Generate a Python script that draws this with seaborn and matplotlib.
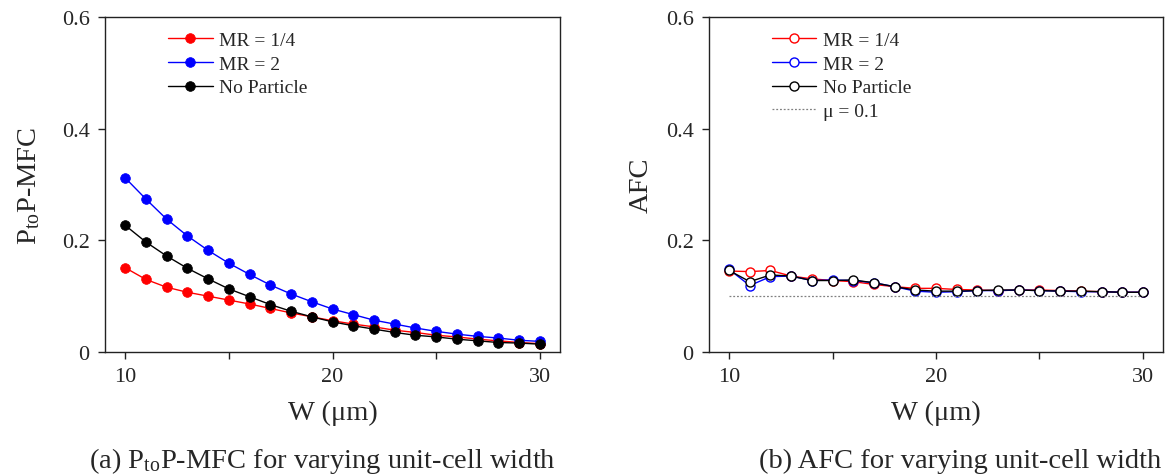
import numpy as np
import pandas as pd
import matplotlib
matplotlib.use("Agg")
import matplotlib.pyplot as plt
import seaborn as sns

# ---------------- data ----------------
W = [10, 11, 12, 13, 14, 15, 16, 17, 18, 19, 20, 21, 22, 23, 24, 25, 26, 27, 28, 29, 30]

mfc_mr14 = [0.151, 0.130, 0.116, 0.107, 0.100, 0.093, 0.086, 0.078, 0.070, 0.063, 0.056,
            0.050, 0.045, 0.039, 0.035, 0.030, 0.027, 0.023, 0.020, 0.017, 0.015]
mfc_mr2 = [0.312, 0.274, 0.238, 0.208, 0.182, 0.159, 0.139, 0.120, 0.104, 0.090, 0.077,
           0.067, 0.057, 0.050, 0.043, 0.037, 0.032, 0.028, 0.025, 0.021, 0.019]
mfc_np = [0.227, 0.197, 0.172, 0.150, 0.131, 0.113, 0.099, 0.085, 0.073, 0.063, 0.054,
          0.047, 0.041, 0.035, 0.030, 0.027, 0.023, 0.020, 0.017, 0.016, 0.014]

afc_mr14 = [0.145, 0.144, 0.146, 0.136, 0.131, 0.128, 0.126, 0.121, 0.117, 0.114, 0.114,
            0.112, 0.111, 0.110, 0.111, 0.111, 0.110, 0.109, 0.108, 0.107, 0.107]
afc_mr2 = [0.148, 0.119, 0.135, 0.136, 0.128, 0.129, 0.128, 0.124, 0.117, 0.109, 0.107,
           0.108, 0.110, 0.110, 0.111, 0.110, 0.109, 0.108, 0.108, 0.107, 0.107]
afc_np = [0.146, 0.126, 0.138, 0.136, 0.128, 0.128, 0.129, 0.124, 0.117, 0.111, 0.109,
          0.109, 0.110, 0.111, 0.111, 0.110, 0.109, 0.109, 0.108, 0.107, 0.107]

mu_x = [10, 30]
mu_val = [0.1, 0.1]

series_labels = ["MR = 1/4", "MR = 2", "No Particle"]
series_colors = ["#ff0000", "#0000ff", "#000000"]
mu_label = "μ = 0.1"

x_ticks = [10, 15, 20, 25, 30]
x_ticklabels = ["10", "", "20", "", "30"]
y_ticks = [0, 0.2, 0.4, 0.6]
y_ticklabels = ["0", "0.2", "0.4", "0.6"]

xlabel = "W (μm)"
ylabel_a = r"P$_{\mathrm{to}}$P-MFC"
ylabel_b = "AFC"
caption_a = r"(a) P$_{\mathrm{to}}$P-MFC for varying unit-cell width"
caption_b = "(b) AFC for varying unit-cell width"

# ---------------- style ----------------
sns.set_theme(style="ticks")
plt.rcParams["font.family"] = ["Liberation Serif", "DejaVu Serif"]
plt.rcParams["mathtext.fontset"] = "custom"
plt.rcParams["mathtext.rm"] = "Liberation Serif"
plt.rcParams["mathtext.it"] = "Liberation Serif:italic"
plt.rcParams["axes.edgecolor"] = "#222222"
plt.rcParams["axes.linewidth"] = 1.0

fig = plt.figure(figsize=(11.71, 4.77), dpi=100)
ax1 = fig.add_axes([105 / 1171, 1 - 353 / 477, 455 / 1171, 335 / 477])
ax2 = fig.add_axes([709 / 1171, 1 - 353 / 477, 454 / 1171, 335 / 477])

tick_fs = 16
label_fs = 20.5
leg_fs = 14
cap_fs = 20.5

# panel (a)
for vals, lab, col in zip([mfc_mr14, mfc_mr2, mfc_np], series_labels, series_colors):
    df = pd.DataFrame({"W": W, "v": vals})
    sns.lineplot(data=df, x="W", y="v", ax=ax1, color=col, label=lab,
                 marker="o", markersize=7, markerfacecolor=col,
                 markeredgecolor=col, markeredgewidth=0.5, linewidth=1.0)

# panel (b)
for vals, lab, col in zip([afc_mr14, afc_mr2, afc_np], series_labels, series_colors):
    df = pd.DataFrame({"W": W, "v": vals})
    sns.lineplot(data=df, x="W", y="v", ax=ax2, color=col, label=lab,
                 marker="o", markersize=6.5, markerfacecolor="white",
                 markeredgecolor=col, markeredgewidth=1.0, linewidth=1.0)
sns.lineplot(x=mu_x, y=mu_val, ax=ax2, color="#808080", linestyle=(0, (1.5, 1.5)),
             linewidth=0.9, label=mu_label)

for ax, yl, lp in [(ax1, ylabel_a, 14), (ax2, ylabel_b, 9)]:
    ax.set_xlim(9.03, 30.97)
    ax.set_ylim(0, 0.6)
    ax.set_xticks(x_ticks)
    ax.set_xticklabels(x_ticklabels, fontsize=tick_fs)
    ax.set_yticks(y_ticks)
    ax.set_yticklabels(y_ticklabels, fontsize=tick_fs)
    ax.tick_params(direction="out", length=5, width=1.0, color="#222222", pad=6)
    ax.set_xlabel(xlabel, fontsize=label_fs, labelpad=10)
    ax.set_ylabel(yl, fontsize=label_fs, labelpad=lp)
    for s in ax.spines.values():
        s.set_visible(True)
    ax.legend(loc="upper left", bbox_to_anchor=(0.138, 0.958), frameon=False,
              fontsize=leg_fs, handlelength=2.3, handletextpad=0.35,
              labelspacing=0.32, borderpad=0, borderaxespad=0)

fig.text(322 / 1171, 1 - 461 / 477, caption_a, ha="center", va="center", fontsize=cap_fs)
fig.text(960 / 1171, 1 - 461 / 477, caption_b, ha="center", va="center", fontsize=cap_fs)

fig.savefig("out.png", dpi=100)
